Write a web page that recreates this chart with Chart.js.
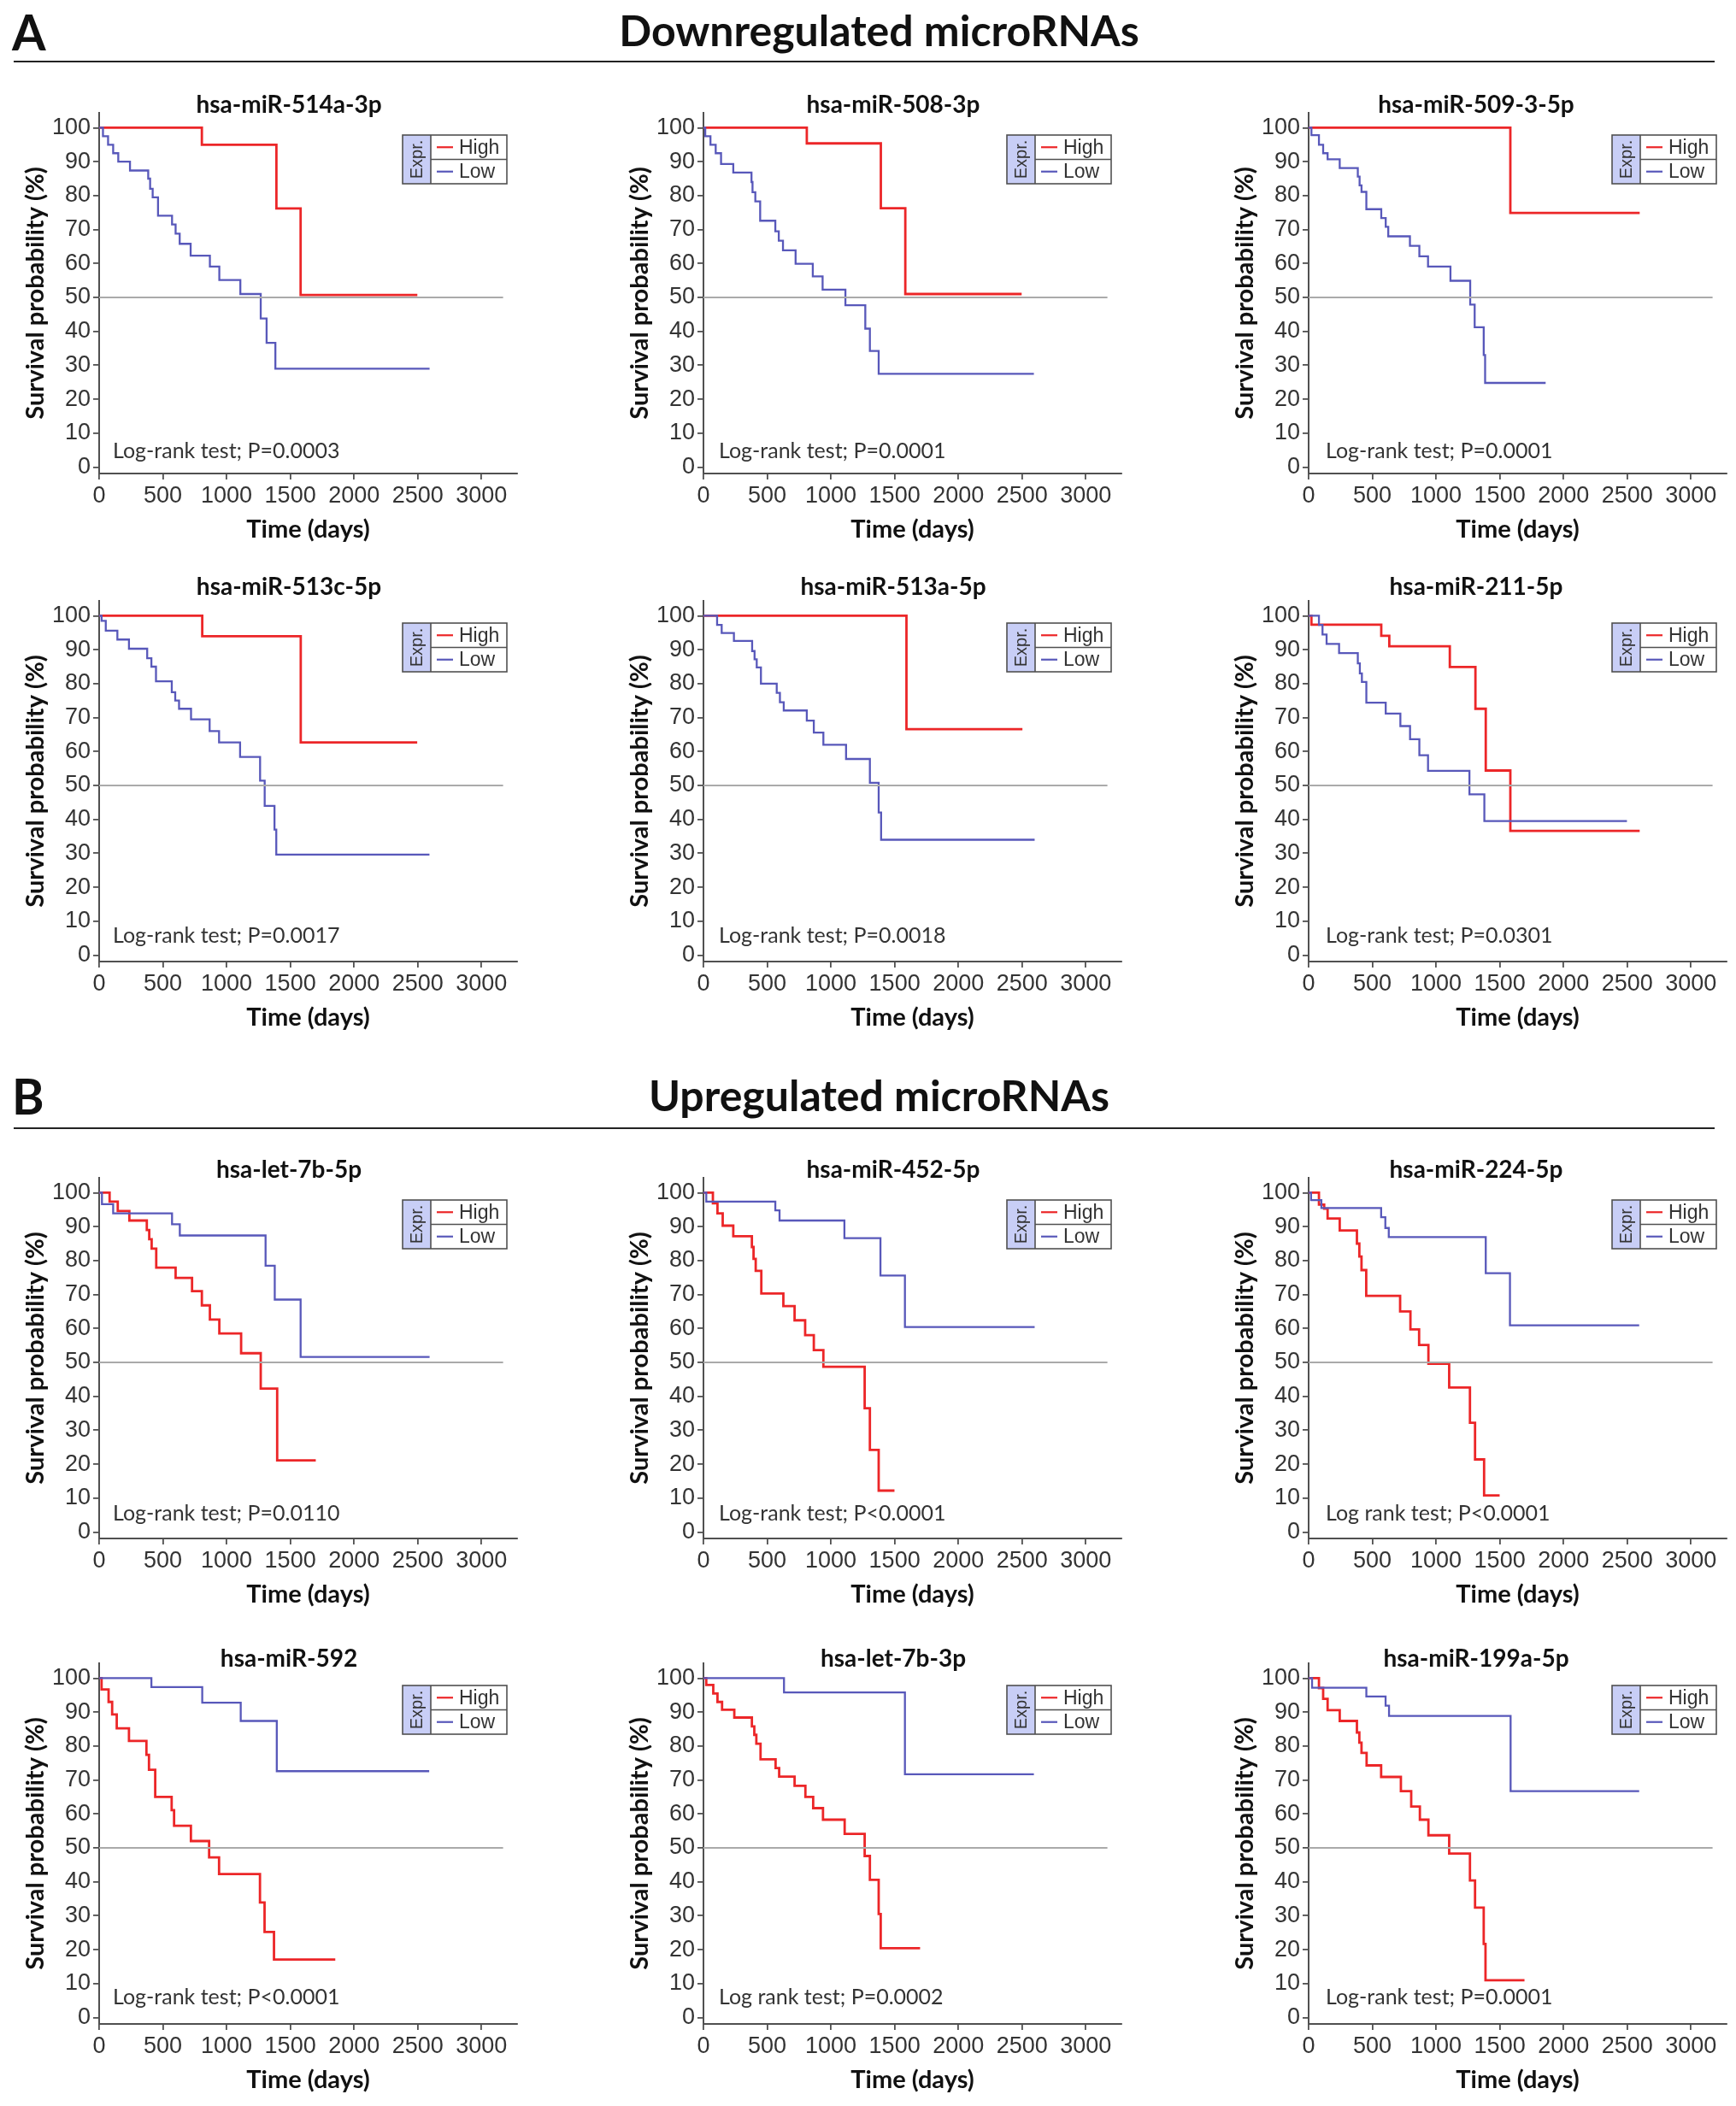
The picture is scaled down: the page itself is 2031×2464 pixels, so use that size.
<!DOCTYPE html>
<html>
<head>
<meta charset="utf-8">
<script src="https://cdn.jsdelivr.net/npm/chart.js@4.4.1/dist/chart.umd.min.js"></script>
<style>
  body { margin: 0; background: #fff; }
  #page { position: relative; width: 2031px; height: 2464px; overflow: hidden; }
  .letter { position: absolute; font: bold 57px Lato, sans-serif; color: #111; }
  .head { position: absolute; left: 13px; width: 2031px; text-align: center; font: bold 50px Lato, sans-serif; color: #111; }
  .rule { position: absolute; left: 16px; width: 1990px; height: 2px; background: #222; }
  canvas.km { position: absolute; }
</style>
</head>
<body>
<div id="page">
  <div class="letter" style="left:14px; top:3px;">A</div>
  <div class="head" style="top:5px;">Downregulated microRNAs</div>
  <div class="rule" style="top:71px;"></div>
  <div class="letter" style="left:14px; top:1248px;">B</div>
  <div class="head" style="top:1251px;">Upregulated microRNAs</div>
  <div class="rule" style="top:1319px;"></div>
</div>
<script>
// survival curves: [time (days), survival (%)]
const miR514a3p_high = [[0,100],[806,95],[1391,76.2],[1581,50.7],[2497,50.7]];
const miR514a3p_low = [[0,100],[30,97.5],[70,95],[110,92.5],[150,90],[242,87.4],[385,85],[400,82],[420,79.5],[462,74.1],[572,71.5],[600,68.8],[632,65.8],[718,62.3],[869,59.1],[943,55.1],[1108,51],[1268,43.8],[1314,36.6],[1383,29],[2593,29]];
const miR508_high = [[0,100],[811,95.4],[1392,76.3],[1584,51],[2497,51]];
const miR508_low = [[0,100],[14,97.5],[55,95],[96,92.5],[138,89.3],[234,86.8],[377,84],[385,81],[407,78.3],[445,72.6],[564,69.5],[591,66.7],[624,63.9],[723,59.9],[858,56.2],[935,52.3],[1114,47.7],[1270,40.8],[1306,34.2],[1375,27.5],[2593,27.5]];
const miR509_high = [[0,100],[1583,74.9],[2598,74.9]];
const miR509_low = [[0,100],[22,97.8],[81,95],[114,92.5],[149,90.7],[244,88.1],[386,85.6],[400,83],[415,81.1],[453,76],[570,73.4],[605,70.8],[625,68],[795,65.2],[869,62.1],[937,59.1],[1113,54.9],[1268,47.9],[1303,41.2],[1374,33],[1385,24.8],[1860,24.8]];
const miR513c_high = [[0,100],[809,94],[1582,62.7],[2496,62.7]];
const miR513c_low = [[0,100],[19,98.5],[52,95.6],[143,93],[234,90.3],[377,87.5],[410,85],[446,80.7],[570,77.5],[597,75],[627,72.6],[721,69.5],[867,66],[941,62.7],[1106,58.4],[1263,51.4],[1299,44],[1376,37],[1390,29.6],[2592,29.6]];
const miR513a_high = [[0,100],[1593,66.6],[2503,66.6]];
const miR513a_low = [[0,100],[107,97.3],[143,94.9],[239,92.6],[382,89.6],[401,87.2],[418,84.8],[451,80],[575,77.3],[600,74.5],[630,72.1],[811,69.1],[866,65.6],[941,62],[1119,57.8],[1306,50.8],[1375,42],[1394,34],[2599,34]];
const miR211_high = [[0,100],[22,97.4],[570,94.1],[633,91],[1108,84.9],[1309,72.6],[1390,54.4],[1583,36.6],[2598,36.6]];
const miR211_low = [[0,100],[81,97.3],[109,94.5],[141,91.7],[239,89],[386,86],[402,83],[418,80.5],[453,74.4],[605,71.2],[720,67.5],[796,63.6],[869,58.9],[937,54.3],[1262,47.4],[1379,39.5],[2498,39.5]];
const let7b5p_high = [[0,100],[82,97.4],[146,94.6],[237,91.8],[374,89],[393,86.3],[412,83.5],[448,77.9],[600,74.9],[729,71],[806,66.8],[869,62.6],[943,58.5],[1114,52.7],[1268,42.3],[1397,21.1],[1700,21.1]];
const let7b5p_low = [[0,100],[22,96.6],[110,93.9],[572,90.7],[633,87.4],[1306,78.5],[1378,68.5],[1581,51.6],[2593,51.6]];
const miR452_high = [[0,100],[74,96.9],[110,93.9],[151,90.3],[234,87.2],[380,84],[393,80.5],[410,77],[454,70.3],[627,66.6],[715,62.4],[798,58],[866,53.6],[941,48.7],[1265,36.5],[1306,24.2],[1375,12.2],[1499,12.2]];
const miR452_low = [[0,100],[22,97.4],[564,94.8],[597,91.8],[1106,86.6],[1389,75.6],[1581,60.4],[2599,60.4]];
const miR224_high = [[0,100],[81,96.5],[122,95.3],[149,92.4],[244,88.9],[379,85],[398,81.2],[415,77.2],[452,69.6],[718,65],[799,59.7],[867,55.1],[940,49.6],[1103,42.6],[1266,32.2],[1306,21.4],[1377,10.8],[1499,10.8]];
const miR224_low = [[0,100],[19,97.8],[100,95.5],[569,92.8],[602,89.6],[629,86.9],[1390,76.3],[1580,60.9],[2594,60.9]];
const miR592_high = [[0,100],[19,96.7],[74,93],[102,89.3],[138,85.2],[234,81.5],[371,77.4],[391,73],[440,65],[569,61.1],[588,56.5],[720,52],[863,47.2],[941,42.3],[1262,33.9],[1298,25.2],[1372,17.1],[1853,17.1]];
const miR592_low = [[0,100],[410,97.4],[809,92.8],[1111,87.4],[1394,72.6],[2590,72.6]];
const let7b3p_high = [[0,100],[22,98],[77,95.5],[110,93],[146,90.7],[242,88.4],[380,85.8],[399,83.3],[415,80.7],[448,76.1],[566,73.5],[594,71],[715,68.3],[800,65],[861,61.7],[938,58.3],[1108,54.1],[1265,47.6],[1306,40.6],[1375,30.5],[1391,20.4],[1700,20.4]];
const let7b3p_low = [[0,100],[632,95.8],[1581,71.7],[2593,71.7]];
const miR199a_high = [[0,100],[81,97.1],[114,93.9],[149,90.6],[244,87.4],[379,84],[398,81],[415,78],[455,74.3],[569,70.9],[724,66.7],[805,62.2],[873,58.3],[940,53.7],[1103,48.3],[1266,40.4],[1306,32.4],[1374,21.7],[1388,11],[1694,11]];
const miR199a_low = [[0,100],[27,97.2],[453,94.6],[604,91.9],[631,88.9],[1585,66.7],[2594,66.7]];

const panelTitles = ['hsa-miR-514a-3p','hsa-miR-508-3p','hsa-miR-509-3-5p','hsa-miR-513c-5p','hsa-miR-513a-5p','hsa-miR-211-5p',
  'hsa-let-7b-5p','hsa-miR-452-5p','hsa-miR-224-5p','hsa-miR-592','hsa-let-7b-3p','hsa-miR-199a-5p'];
const pTexts = ['Log-rank test; P=0.0003','Log-rank test; P=0.0001','Log-rank test; P=0.0001','Log-rank test; P=0.0017','Log-rank test; P=0.0018','Log-rank test; P=0.0301',
  'Log-rank test; P=0.0110','Log-rank test; P<0.0001','Log rank test; P<0.0001','Log-rank test; P<0.0001','Log rank test; P=0.0002','Log-rank test; P=0.0001'];
const highCurves = [miR514a3p_high, miR508_high, miR509_high, miR513c_high, miR513a_high, miR211_high,
  let7b5p_high, miR452_high, miR224_high, miR592_high, let7b3p_high, miR199a_high];
const lowCurves = [miR514a3p_low, miR508_low, miR509_low, miR513c_low, miR513a_low, miR211_low,
  let7b5p_low, miR452_low, miR224_low, miR592_low, let7b3p_low, miR199a_low];
const seriesNames = ['High', 'Low'];
const xTicks = [0, 500, 1000, 1500, 2000, 2500, 3000];
const yTicks = [0, 10, 20, 30, 40, 50, 60, 70, 80, 90, 100];
const medianLine = [[0, 50], [3170, 50]];

const RED = 'rgb(236,38,40)';
const BLUE = 'rgb(88,88,186)';
const GREY_AX = '#505050';
const TICK_FONT = '"Liberation Sans", Arial, sans-serif';

const colLeft = [-4, 703, 1411];
const rowTop = [82, 653, 1328, 1896];
const titleDx = [222, 222, 196];
const titleDy = [-9, -16, -9, -5];
const pDx = [16, 18, 20];
const pY = [4.6, 5.7, 5.5, 5.8];

// titles, log-rank note and the boxed "Expr." legend
const kmDecor = {
  id: 'kmDecor',
  afterDraw(chart, args, o) {
    const ctx = chart.ctx;
    const xs = chart.scales.x, ys = chart.scales.y;
    const x0 = xs.getPixelForValue(0);
    const top = chart.chartArea.top;
    ctx.save();
    ctx.fillStyle = '#111';
    ctx.font = 'bold 28px Lato, sans-serif';
    ctx.textAlign = 'center';
    ctx.textBaseline = 'middle';
    ctx.fillText(o.title, x0 + o.titleDx, top + o.titleDy);

    ctx.fillStyle = '#333';
    ctx.font = '25px Lato, sans-serif';
    ctx.textAlign = 'left';
    ctx.fillText(o.ptext, x0 + o.pDx, ys.getPixelForValue(o.pY));

    const bx = x0 + 355, by = top + 26, bw = 122, bh = 57, cw = 33;
    ctx.fillStyle = 'rgb(200,206,246)';
    ctx.fillRect(bx, by, cw, bh);
    ctx.strokeStyle = GREY_AX;
    ctx.lineWidth = 1.6;
    ctx.strokeRect(bx, by, bw, bh);
    ctx.beginPath();
    ctx.moveTo(bx + cw, by); ctx.lineTo(bx + cw, by + bh);
    ctx.moveTo(bx + cw, by + bh / 2); ctx.lineTo(bx + bw, by + bh / 2);
    ctx.stroke();
    ctx.save();
    ctx.translate(bx + cw / 2 + 1, by + bh / 2);
    ctx.rotate(-Math.PI / 2);
    ctx.fillStyle = '#333';
    ctx.font = '20px ' + TICK_FONT;
    ctx.textAlign = 'center';
    ctx.textBaseline = 'middle';
    ctx.fillText('Expr.', 0, 0);
    ctx.restore();
    const cols = [RED, BLUE];
    for (let i = 0; i < 2; i++) {
      const cy = by + bh / 4 + i * bh / 2;
      ctx.strokeStyle = cols[i];
      ctx.lineWidth = 2.2;
      ctx.beginPath();
      ctx.moveTo(bx + cw + 7, cy); ctx.lineTo(bx + cw + 26, cy);
      ctx.stroke();
      ctx.fillStyle = '#333';
      ctx.font = '23px ' + TICK_FONT;
      ctx.textAlign = 'left';
      ctx.textBaseline = 'middle';
      ctx.fillText(seriesNames[i], bx + cw + 33, cy + 1);
    }
    ctx.restore();
  }
};

const toXY = arr => arr.map(p => ({ x: p[0], y: p[1] }));
const page = document.getElementById('page');

for (let i = 0; i < 12; i++) {
  const row = Math.floor(i / 3), col = i % 3;
  const cv = document.createElement('canvas');
  cv.className = 'km';
  cv.width = 720; cv.height = 567;
  cv.style.left = colLeft[col] + 'px';
  cv.style.top = rowTop[row] + 'px';
  page.appendChild(cv);

  new Chart(cv.getContext('2d'), {
    type: 'line',
    data: {
      datasets: [
        { data: toXY(medianLine), borderColor: '#aaaaaa', borderWidth: 2, pointRadius: 0 },
        { label: seriesNames[1], data: toXY(lowCurves[i]), borderColor: BLUE, borderWidth: 2.3, pointRadius: 0, stepped: true },
        { label: seriesNames[0], data: toXY(highCurves[i]), borderColor: RED, borderWidth: 2.8, pointRadius: 0, stepped: true }
      ]
    },
    options: {
      responsive: false,
      animation: false,
      devicePixelRatio: 1,
      layout: { padding: { top: 50, right: 111, left: 0, bottom: 0 } },
      plugins: {
        legend: { display: false },
        tooltip: { enabled: false },
        kmDecor: { title: panelTitles[i], ptext: pTexts[i], titleDx: titleDx[col], titleDy: titleDy[row], pDx: pDx[col], pY: pY[row] }
      },
      scales: {
        x: {
          type: 'linear', min: 0, max: 3280,
          afterBuildTicks: s => { s.ticks = xTicks.map(v => ({ value: v })); },
          afterFit: s => { s.height = 95; },
          border: { color: GREY_AX, width: 2 },
          grid: { drawOnChartArea: false, drawTicks: true, tickLength: 7, tickColor: GREY_AX, lineWidth: 1.8 },
          ticks: { color: '#333', font: { family: TICK_FONT, size: 27 }, padding: 3, maxRotation: 0, autoSkip: false,
                   callback: v => String(v) },
          title: { display: true, text: 'Time (days)', color: '#111', font: { family: 'Lato, sans-serif', size: 29, weight: 'bold' }, padding: { top: 0, bottom: 12 } }
        },
        y: {
          type: 'linear', min: -1.9, max: 104.4,
          afterBuildTicks: s => { s.ticks = yTicks.map(v => ({ value: v })); },
          afterFit: s => { s.width = 120; },
          border: { color: GREY_AX, width: 2 },
          grid: { drawOnChartArea: false, drawTicks: true, tickLength: 7, tickColor: GREY_AX, lineWidth: 1.8 },
          ticks: { color: '#333', font: { family: TICK_FONT, size: 27 }, padding: 3, autoSkip: false,
                   callback: v => String(v) },
          title: { display: true, text: 'Survival probability (%)', color: '#111', font: { family: 'Lato, sans-serif', size: 29, weight: 'bold' }, padding: { top: 28, bottom: 0 } }
        }
      }
    },
    plugins: [kmDecor]
  });
}
</script>
</body>
</html>
